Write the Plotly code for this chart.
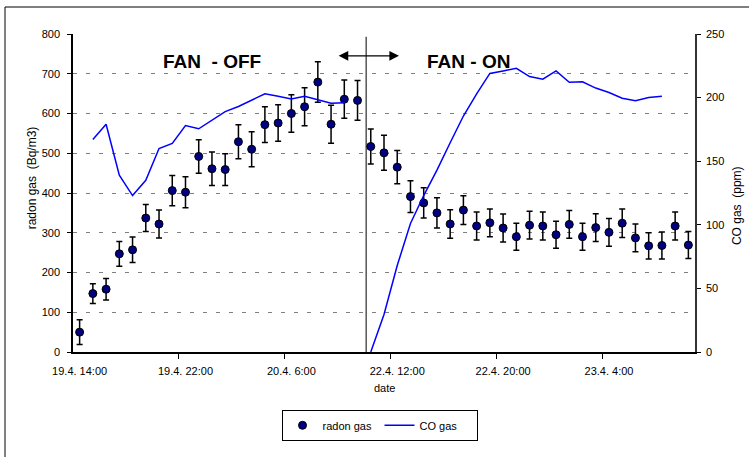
import plotly.graph_objects as go

# Hourly sampling times (measurement break between 20.4. and 22.4.)
times = [
    "19.4. 14:00", "19.4. 15:00", "19.4. 16:00", "19.4. 17:00", "19.4. 18:00",
    "19.4. 19:00", "19.4. 20:00", "19.4. 21:00", "19.4. 22:00", "19.4. 23:00",
    "20.4. 0:00", "20.4. 1:00", "20.4. 2:00", "20.4. 3:00", "20.4. 4:00",
    "20.4. 5:00", "20.4. 6:00", "20.4. 7:00", "20.4. 8:00", "20.4. 9:00",
    "20.4. 10:00", "20.4. 11:00",
    "22.4. 10:00", "22.4. 11:00", "22.4. 12:00", "22.4. 13:00", "22.4. 14:00",
    "22.4. 15:00", "22.4. 16:00", "22.4. 17:00", "22.4. 18:00", "22.4. 19:00",
    "22.4. 20:00", "22.4. 21:00", "22.4. 22:00", "22.4. 23:00", "23.4. 0:00",
    "23.4. 1:00", "23.4. 2:00", "23.4. 3:00", "23.4. 4:00", "23.4. 5:00",
    "23.4. 6:00", "23.4. 7:00", "23.4. 8:00", "23.4. 9:00", "23.4. 10:00",
]

# Radon concentration (Bq/m3) and its uncertainty
radon = [50, 147, 158, 247, 257, 337, 322, 406, 402, 492, 461, 459, 529, 510,
         572, 576, 600, 617, 679, 573, 636, 633,
         517, 501, 465, 391, 375, 350, 322, 357, 317, 325, 312, 290, 319, 317,
         295, 321, 290, 313, 301, 324, 287, 267, 268, 317, 269]
radon_err = [31, 25, 27, 31, 32, 34, 35, 38, 39, 42, 42, 40, 43, 44, 45, 46,
             47, 48, 51, 48, 48, 50,
             44, 44, 42, 40, 38, 38, 36, 36, 35, 35, 35, 34, 35, 35, 34, 35,
             34, 35, 35, 36, 35, 33, 34, 35, 34]

# CO concentration (ppm)
co = [None, 167, 179, 139, 123, 135, 160, 164, 178, 175.5, 182, 189, 193, 198,
      203, 201, 199, 201, 198, 195.5, 196, None,
      0, 29.5, 68, 101, 123, 143, 164.5, 185.5, 203, 219, 221, 223, 216.5,
      214.5, 221, 212, 212.5, 207.5, 204, 199.5, 197.5, 200, 201, None, None]

label_step = 8
fan_off_text = "FAN\u00a0\u00a0- OFF"
fan_on_text = "FAN - ON"

FONT = "Arial, Liberation Sans, sans-serif"
x = list(range(len(times)))
tick_idx = list(range(0, len(times), label_step))

fig = go.Figure()

fig.add_trace(go.Scatter(
    x=x, y=radon, name="radon gas", mode="markers",
    marker=dict(color="#000080", size=8, line=dict(color="black", width=1)),
    error_y=dict(type="data", array=radon_err, visible=True,
                 color="black", thickness=1.5, width=3),
    text=times, hovertemplate="%{text}<br>%{y} Bq/m3<extra></extra>",
))

fig.add_trace(go.Scatter(
    x=x, y=co, name="CO gas", mode="lines", yaxis="y2",
    line=dict(color="#0000FF", width=1.5), connectgaps=False,
    text=times, hovertemplate="%{text}<br>%{y} ppm<extra></extra>",
))

fig.update_layout(
    width=749, height=457,
    margin=dict(l=73, r=54, t=34, b=105),
    paper_bgcolor="white", plot_bgcolor="white",
    font=dict(family=FONT, size=11, color="black"),
    showlegend=True,
    legend=dict(
        orientation="h", x=0.4928, xanchor="center", y=-0.2305, yanchor="middle",
        bordercolor="black", borderwidth=1, bgcolor="white",
        font=dict(family=FONT, size=11),
        entrywidth=52, entrywidthmode="pixels",
    ),
    xaxis=dict(
        range=[-0.5, len(times) - 0.5],
        tickmode="array", tickvals=tick_idx,
        ticktext=[times[i] for i in tick_idx],
        ticks="", showgrid=False, zeroline=False,
        showline=True, linecolor="black", linewidth=1.5,
        tickfont=dict(size=11), ticklabelstandoff=8,
        minor=dict(tickmode="array",
                   tickvals=[i - 0.5 for i in tick_idx[1:]],
                   ticks="outside", ticklen=5, tickcolor="black", showgrid=False),
    ),
    yaxis=dict(
        range=[0, 800], dtick=100, tick0=0,
        showgrid=True, gridcolor="#808080", griddash="4px,9px", gridwidth=1,
        zeroline=False, showline=True, linecolor="black", linewidth=1.5,
        ticks="outside", ticklen=4, tickcolor="black",
        tickfont=dict(size=11), ticklabelstandoff=5,
    ),
    yaxis2=dict(
        range=[0, 250], dtick=50, tick0=0, overlaying="y", side="right",
        showgrid=False, zeroline=False, showline=True,
        linecolor="#333333", linewidth=1.5,
        ticks="outside", ticklen=4, tickcolor="black",
        tickfont=dict(size=11), ticklabelstandoff=3,
    ),
)

annotations = [
    dict(text="date", xref="paper", yref="paper", x=0.5, y=-0.113,
         showarrow=False, font=dict(size=11), xanchor="center", yanchor="middle"),
    dict(text="radon gas\u00a0\u00a0(Bq/m3)", xref="paper", yref="paper",
         x=-0.066, y=0.549, textangle=-90, showarrow=False,
         font=dict(size=12), xanchor="center", yanchor="middle"),
    dict(text="CO gas\u00a0\u00a0(ppm)", xref="paper", yref="paper",
         x=1.0675, y=0.462, textangle=-90, showarrow=False,
         font=dict(size=12), xanchor="center", yanchor="middle"),
    dict(text="<b>" + fan_off_text + "</b>", xref="x", yref="y", x=10.0, y=730,
         showarrow=False, font=dict(size=19), xanchor="center", yanchor="middle"),
    dict(text="<b>" + fan_on_text + "</b>", xref="x", yref="y", x=29.4, y=730,
         showarrow=False, font=dict(size=19), xanchor="center", yanchor="middle"),
    # double-headed arrow marking the switch-over
    dict(text="", xref="x", yref="y", x=24.13, y=745,
         axref="x", ayref="y", ax=19.46, ay=745,
         showarrow=True, arrowside="end+start", arrowhead=2,
         arrowsize=1.6, arrowwidth=1.2, arrowcolor="black"),
]
fig.update_layout(annotations=annotations)

fig.add_shape(type="line", xref="x", yref="y", x0=21.65, x1=21.65, y0=0, y1=793,
              line=dict(color="black", width=1))
# outer chart frame
fig.add_shape(type="rect", xref="paper", yref="paper",
              x0=-0.1093, x1=1.3, y0=-0.5, y1=1.0849,
              line=dict(color="black", width=1), fillcolor="rgba(0,0,0,0)")

fig.write_html("out.html")
